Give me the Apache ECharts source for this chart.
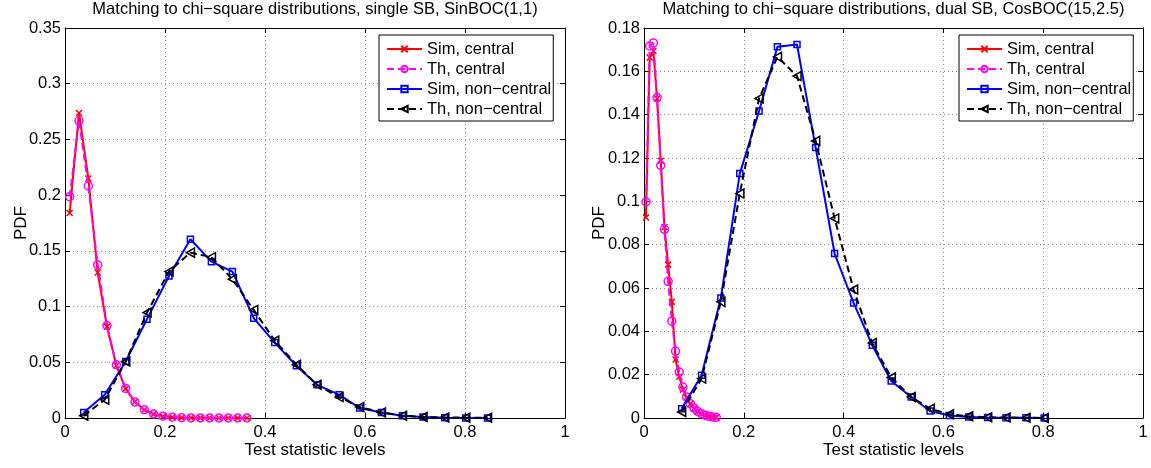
<!DOCTYPE html>
<html><head><meta charset="utf-8">
<script src="https://cdn.jsdelivr.net/npm/echarts@6/dist/echarts.min.js"></script>
<style>html,body{margin:0;padding:0;background:#fff}#c{width:1151px;height:468px}</style>
</head><body><div id="c"></div>
<script>
// ---------- data ----------
const seriesNames = ['Sim, central', 'Th, central', 'Sim, non\u2212central', 'Th, non\u2212central'];
const titles = ['Matching to chi\u2212square distributions, single SB, SinBOC(1,1)',
                'Matching to chi\u2212square distributions, dual SB, CosBOC(15,2.5)'];
const xTicks = [0, 0.2, 0.4, 0.6, 0.8, 1];
const leftYTicks = [0, 0.05, 0.1, 0.15, 0.2, 0.25, 0.3, 0.35];
const rightYTicks = [0, 0.02, 0.04, 0.06, 0.08, 0.1, 0.12, 0.14, 0.16, 0.18];

// left panel: single SB, SinBOC(1,1)
const leftCentralX = [0.0094, 0.028, 0.0467, 0.0654, 0.084, 0.1027, 0.1214, 0.14, 0.1587, 0.1774,
                      0.196, 0.2147, 0.2334, 0.252, 0.2707, 0.2894, 0.308, 0.3267, 0.3454, 0.364];
const leftSimCentral = [0.184, 0.2738, 0.215, 0.1305, 0.082, 0.0472, 0.0262, 0.0145, 0.0072, 0.0035,
                        0.0015, 0.0007, 0.0003, 0.0001, 0.0001, 0, 0, 0, 0, 0];
const leftThCentral = [0.1986, 0.2667, 0.2082, 0.1374, 0.083, 0.0478, 0.0265, 0.0143, 0.0074, 0.0036,
                       0.0016, 0.0007, 0.0003, 0.0001, 0.00005, 0, 0, 0, 0, 0];
const leftNonCentralX = [0.0374, 0.0794, 0.1214, 0.164, 0.208, 0.2508, 0.2928, 0.3348, 0.3774, 0.4194,
                         0.4628, 0.504, 0.548, 0.5894, 0.6328, 0.675, 0.716, 0.7594, 0.8014, 0.845];
const leftSimNonCentral = [0.005, 0.0209, 0.0507, 0.0887, 0.1275, 0.1604, 0.1403, 0.1314, 0.0896, 0.0677,
                           0.0469, 0.0298, 0.0209, 0.009, 0.005, 0.002, 0.0008, 0.0003, 0.0001, 0];
const leftThNonCentral = [0.0021, 0.0164, 0.0507, 0.0946, 0.1314, 0.1484, 0.1443, 0.1246, 0.097, 0.0695,
                          0.0478, 0.0298, 0.0188, 0.0099, 0.005, 0.0021, 0.0009, 0.0005, 0.0003, 0.0002];

// right panel: dual SB, CosBOC(15,2.5)
const rightCentralX = [0.004, 0.0114, 0.0188, 0.0262, 0.0336, 0.041, 0.0484, 0.0558, 0.0632, 0.0706,
                       0.078, 0.0854, 0.0928, 0.1002, 0.1076, 0.115, 0.1224, 0.1298, 0.1372, 0.1446];
const rightSimCentral = [0.0925, 0.1664, 0.1694, 0.1475, 0.1187, 0.088, 0.0708, 0.0536, 0.027, 0.019,
                         0.013, 0.0095, 0.0065, 0.0045, 0.003, 0.002, 0.0012, 0.0008, 0.0005, 0.0003];
const rightThCentral = [0.0997, 0.1717, 0.1731, 0.1479, 0.1166, 0.0871, 0.0631, 0.0447, 0.0309, 0.0212,
                        0.0143, 0.0097, 0.0066, 0.0046, 0.003, 0.002, 0.0013, 0.0008, 0.0005, 0.0003];
const rightNonCentralX = [0.0754, 0.1154, 0.154, 0.192, 0.2306, 0.2674, 0.3066, 0.344, 0.382, 0.42,
                          0.4574, 0.4954, 0.5354, 0.5734, 0.612, 0.6506, 0.6886, 0.7254, 0.7654, 0.802];
const rightSimNonCentral = [0.0043, 0.0197, 0.0554, 0.1128, 0.1417, 0.1713, 0.1724, 0.1248, 0.0759, 0.0531,
                            0.0336, 0.0171, 0.0097, 0.0032, 0.0012, 0.0005, 0.0002, 0.0001, 0.0001, 0];
const rightThNonCentral = [0.0028, 0.0182, 0.0536, 0.1036, 0.1475, 0.1667, 0.1578, 0.1279, 0.0921, 0.0593,
                           0.0346, 0.0187, 0.0097, 0.0043, 0.0017, 0.0008, 0.0003, 0.0002, 0.0001, 0];

// ---------- chart ----------
const FONT = '"Liberation Sans", Arial, Helvetica, sans-serif';
const pairs = (xs, ys) => xs.map((x, i) => [x, ys[i]]);
const fmt = v => String(parseFloat(Number(v).toFixed(4)));
const X_MARK = 'path://M0,0L10,10M10,0L0,10';
const TRI_LEFT = 'path://M0,5L9,0L9,10Z';
const styles = [
  {color: '#ff0000', dashed: false, symbol: X_MARK, size: 6},
  {color: '#ff00ff', dashed: true, symbol: 'circle', size: 8},
  {color: '#0000ff', dashed: false, symbol: 'rect', size: 6},
  {color: '#000000', dashed: true, symbol: TRI_LEFT, size: 9}
];

function mkSeries(gi, k, xs, ys) {
  const s = styles[k];
  return {
    type: 'line', name: seriesNames[k], xAxisIndex: gi * 2, yAxisIndex: gi * 2,
    data: pairs(xs, ys), symbol: s.symbol, symbolSize: s.size, showSymbol: true,
    symbolKeepAspect: true, animation: false, z: 2 + k,
    lineStyle: {color: s.color, width: 2, type: s.dashed ? [7, 4] : 'solid'},
    itemStyle: {color: 'rgba(255,255,255,0)', borderColor: s.color, borderWidth: 1.5},
    emphasis: {disabled: true}
  };
}

function axisPair(kind, gi, ticks, nameGap, name) {
  const min = ticks[0], max = ticks[ticks.length - 1], interval = ticks[1] - ticks[0];
  const common = {
    gridIndex: gi, type: 'value', min, max, interval,
    axisLine: {show: true, onZero: false, lineStyle: {color: '#000', width: 1}},
    axisTick: {show: true, inside: true, length: 5, lineStyle: {color: '#000', width: 1}}
  };
  const main = Object.assign({}, common, {
    position: kind === 'x' ? 'bottom' : 'left',
    axisLabel: {color: '#000', fontSize: 16.5, fontFamily: FONT, margin: kind === 'x' ? 6 : 4, formatter: fmt},
    splitLine: {show: true, lineStyle: {color: '#8a8a8a', type: [1, 3], width: 1}},
    name, nameLocation: 'middle', nameGap, nameMoveOverlap: false,
    nameTextStyle: {color: '#000', fontSize: 17, fontFamily: FONT}
  });
  const second = Object.assign({}, common, {
    position: kind === 'x' ? 'top' : 'right',
    axisLabel: {show: false}, splitLine: {show: false}
  });
  return [main, second];
}

const legendBase = {
  orient: 'vertical', top: 35, backgroundColor: '#fff', borderColor: '#000', borderWidth: 1,
  padding: [4, 2, 2, 7], itemWidth: 35, itemHeight: 8, itemGap: 0, selectedMode: false, z: 20,
  textStyle: {color: '#000', fontSize: 16.5, fontFamily: FONT, lineHeight: 20}, data: seriesNames
};

const titleStyle = {fontSize: 16.5, fontWeight: 'normal', fontFamily: FONT, color: '#000'};
const option = {
  backgroundColor: '#fff',
  animation: false,
  title: [
    {text: titles[0], left: 315, top: 1, textAlign: 'center', padding: 0, textStyle: titleStyle},
    {text: titles[1], left: 893.5, top: 1, textAlign: 'center', padding: 0, textStyle: titleStyle}
  ],
  legend: [
    Object.assign({}, legendBase, {left: 379}),
    Object.assign({}, legendBase, {left: 959})
  ],
  grid: [
    {left: 65, top: 28, width: 500, height: 390},
    {left: 644, top: 28, width: 499, height: 390}
  ],
  xAxis: [].concat(axisPair('x', 0, xTicks, 24, 'Test statistic levels'),
                   axisPair('x', 1, xTicks, 24, 'Test statistic levels')),
  yAxis: [].concat(axisPair('y', 0, leftYTicks, 35, 'PDF'),
                   axisPair('y', 1, rightYTicks, 36, 'PDF')),
  series: [
    mkSeries(0, 0, leftCentralX, leftSimCentral),
    mkSeries(0, 1, leftCentralX, leftThCentral),
    mkSeries(0, 2, leftNonCentralX, leftSimNonCentral),
    mkSeries(0, 3, leftNonCentralX, leftThNonCentral),
    mkSeries(1, 0, rightCentralX, rightSimCentral),
    mkSeries(1, 1, rightCentralX, rightThCentral),
    mkSeries(1, 2, rightNonCentralX, rightSimNonCentral),
    mkSeries(1, 3, rightNonCentralX, rightThNonCentral)
  ]
};
const chart = echarts.init(document.getElementById('c'), null, {renderer: 'canvas'});
chart.setOption(option);
</script>
</body></html>
